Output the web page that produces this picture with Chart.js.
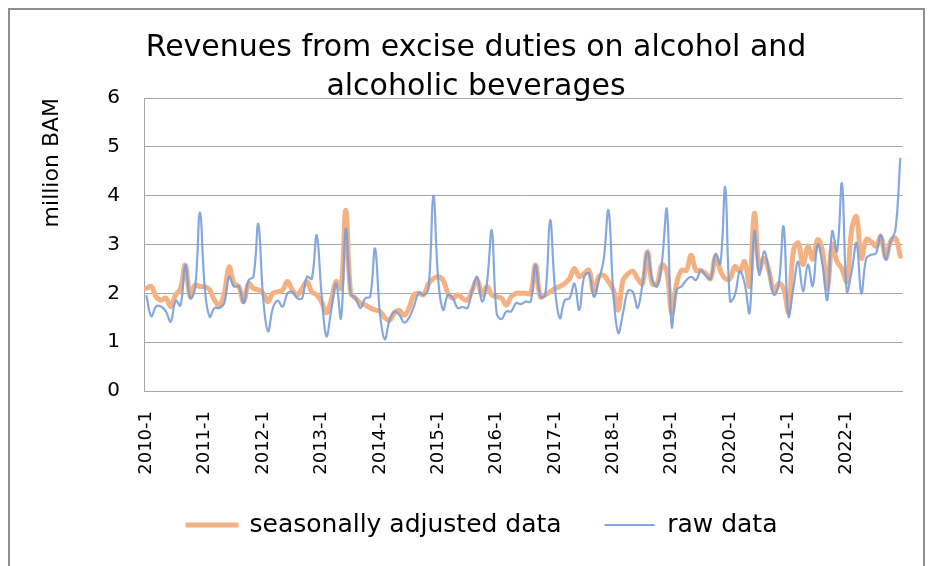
<!DOCTYPE html>
<html>
<head>
<meta charset="utf-8">
<title>Excise duties on alcohol</title>
<script src="https://cdn.jsdelivr.net/npm/chart.js@4.4.1/dist/chart.umd.min.js"></script>
<style>
  html, body { margin: 0; padding: 0; background: #fff; }
  #wrap { position: relative; width: 934px; height: 566px; overflow: hidden; }
  #frame { position: absolute; left: 8px; top: 8px; width: 917px; height: 580px; border: 2px solid #8f8f8f; box-sizing: border-box; }
  #excise { position: absolute; left: 0; top: 0; }
</style>
</head>
<body>
<div id="wrap">
  <div id="frame"></div>
  <canvas id="excise" width="934" height="566"></canvas>
</div>
<script>
// monthly series 2010-1 .. 2022-12, million BAM
const years = [2010, 2011, 2012, 2013, 2014, 2015, 2016, 2017, 2018, 2019, 2020, 2021, 2022];
const months = [1, 2, 3, 4, 5, 6, 7, 8, 9, 10, 11, 12];
const labels = years.flatMap(y => months.map(m => y + '-' + m));

const adjustedData = [
  2.10, 2.14, 1.93, 1.86, 1.90, 1.73, 1.97, 2.10, 2.58, 1.93, 2.17, 2.14,
  2.14, 2.07, 1.86, 1.76, 2.00, 2.54, 2.20, 2.14, 1.83, 2.20, 2.10, 2.07,
  2.00, 1.83, 2.00, 2.03, 2.07, 2.24, 2.07, 1.97, 2.10, 2.24, 2.03, 1.97,
  1.83, 1.60, 1.86, 2.24, 2.10, 3.70, 2.00, 1.90, 1.80, 1.76, 1.70, 1.66,
  1.63, 1.50, 1.45, 1.60, 1.65, 1.55, 1.70, 1.97, 2.00, 1.97, 2.20, 2.30,
  2.34, 2.27, 2.00, 1.90, 1.97, 1.90, 1.86, 2.07, 2.27, 1.97, 2.14, 1.97,
  1.93, 1.90, 1.76, 1.93, 2.00, 2.00, 2.00, 2.00, 2.58, 1.93, 1.97, 2.03,
  2.10, 2.14, 2.20, 2.30, 2.51, 2.34, 2.41, 2.47, 2.00, 2.34, 2.37, 2.24,
  2.07, 1.66, 2.27, 2.40, 2.45, 2.30, 2.20, 2.85, 2.20, 2.20, 2.58, 2.45,
  1.60, 2.20, 2.47, 2.47, 2.78, 2.47, 2.47, 2.40, 2.30, 2.75, 2.47, 2.30,
  2.30, 2.55, 2.45, 2.65, 2.15, 3.64, 2.50, 2.72, 2.45, 2.04, 2.20, 2.10,
  1.63, 2.86, 3.03, 2.59, 2.96, 2.70, 3.10, 2.86, 2.10, 3.00, 2.65, 2.50,
  2.24, 3.30, 3.57, 2.72, 3.10, 3.06, 2.96, 3.16, 2.72, 3.06, 3.13, 2.76
];

const rawData = [
  1.95, 1.53, 1.73, 1.73, 1.63, 1.42, 1.85, 1.75, 2.58, 1.90, 2.10, 3.66,
  2.10, 1.52, 1.70, 1.70, 1.80, 2.34, 2.14, 2.14, 1.80, 2.27, 2.34, 3.42,
  1.90, 1.22, 1.70, 1.85, 1.73, 2.00, 2.03, 1.90, 1.90, 2.34, 2.30, 3.19,
  2.00, 1.12, 1.66, 2.20, 1.49, 3.32, 2.00, 1.90, 1.70, 1.90, 1.93, 2.92,
  1.60, 1.06, 1.46, 1.63, 1.56, 1.40, 1.50, 1.73, 2.01, 1.97, 2.10, 4.00,
  2.27, 1.66, 1.97, 1.90, 1.70, 1.72, 1.70, 2.07, 2.34, 1.83, 2.20, 3.29,
  1.60, 1.47, 1.63, 1.63, 1.80, 1.78, 1.83, 1.83, 2.58, 1.93, 1.97, 3.50,
  2.10, 1.49, 1.86, 1.90, 2.20, 1.66, 2.34, 2.41, 1.93, 2.27, 2.68, 3.70,
  2.00, 1.19, 1.60, 2.05, 2.03, 1.70, 2.20, 2.85, 2.27, 2.14, 2.65, 3.72,
  1.32, 2.07, 2.14, 2.27, 2.34, 2.27, 2.47, 2.37, 2.30, 2.81, 2.60, 4.17,
  1.84, 1.97, 2.45, 2.20, 1.60, 3.27, 2.38, 2.86, 2.45, 1.97, 2.18, 3.37,
  1.53, 2.10, 2.65, 2.04, 2.59, 2.15, 3.00, 2.59, 1.87, 3.27, 2.86, 4.25,
  2.04, 2.45, 3.03, 2.00, 2.72, 2.79, 2.82, 3.20, 2.69, 3.06, 3.30, 4.76
];

const yTickValues = [0, 1, 2, 3, 4, 5, 6];

const font = 'DejaVu Sans';
const orange = '#F4B183';
const blue = 'rgba(120, 158, 220, 0.9)';

const ctx = document.getElementById('excise');

new Chart(ctx, {
  type: 'line',
  data: {
    labels: labels,
    datasets: [{
      label: 'seasonally adjusted data',
      data: adjustedData,
      borderColor: orange,
      backgroundColor: orange,
      borderWidth: 5,
      order: 2
    }, {
      label: 'raw data',
      data: rawData,
      borderColor: blue,
      backgroundColor: blue,
      borderWidth: 2.2,
      order: 1
    }]
  },
  options: {
    responsive: false,
    animation: false,
    layout: { padding: { top: 10, left: 49, right: 31, bottom: 18.5 } },
    elements: {
      point: { radius: 0 },
      line: { tension: 0.4, borderCapStyle: 'round', borderJoinStyle: 'round' }
    },
    plugins: {
      title: {
        display: true,
        text: ['Revenues from excise duties on alcohol and', 'alcoholic beverages'],
        color: '#000',
        font: { family: font, size: 30, weight: 'normal', lineHeight: 1.3 },
        padding: { top: 19, bottom: -9 }
      },
      legend: {
        position: 'bottom',
        align: 'start',
        fullSize: false,
        // empty title with negative padding pulls the row up under the axis labels
        title: { display: true, text: '', font: { size: 1, lineHeight: 1 }, padding: { top: 0, bottom: -22.5 } },
        labels: {
          color: '#000',
          font: { family: font, size: 25 },
          boxWidth: 50,
          boxHeight: 2,
          padding: 43,
          // keep legend in dataset order, thick sample for the adjusted line
          generateLabels: chart => chart.data.datasets.map((ds, i) => ({
            text: ds.label,
            fillStyle: ds.borderColor,
            strokeStyle: ds.borderColor,
            fontColor: '#000',
            lineWidth: i === 0 ? 3 : 0,
            hidden: false,
            datasetIndex: i
          }))
        }
      },
      tooltip: { enabled: false }
    },
    scales: {
      x: {
        offset: true,
        grid: { display: false },
        border: { display: true, color: '#A6A6A6', width: 1 },
        ticks: {
          autoSkip: false,
          minRotation: 90,
          maxRotation: 90,
          padding: 12,
          color: '#000',
          font: { family: font, size: 18 },
          callback: function (value, index) {
            return index % 12 === 0 ? this.getLabelForValue(value) : '';
          }
        },
        afterFit: s => { s.height = 100; }
      },
      y: {
        min: 0,
        max: 6,
        afterBuildTicks: s => { s.ticks = yTickValues.map(v => ({ value: v })); },
        ticks: { padding: 24, color: '#000', font: { family: font, size: 20 } },
        grid: { color: '#A6A6A6', drawTicks: false, lineWidth: 1 },
        border: { display: true, color: '#A6A6A6', width: 1 },
        title: {
          display: true,
          text: 'million BAM',
          align: 'end',
          color: '#000',
          font: { family: font, size: 22 },
          padding: { top: -10, bottom: 0 }
        },
        afterFit: s => { s.width = 95; }
      }
    }
  }
});
</script>
</body>
</html>
